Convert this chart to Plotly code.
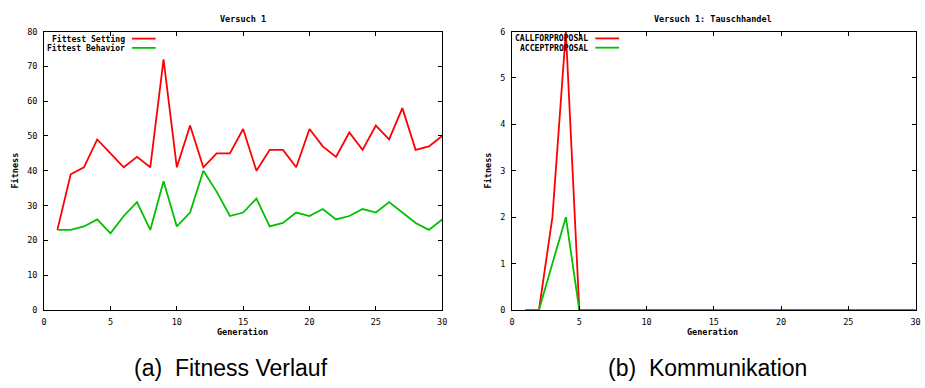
import plotly.graph_objects as go

# ---- data ----
generations = list(range(1, 31))
fittest_setting = [23, 39, 41, 49, 45, 41, 44, 41, 72, 41, 53, 41, 45, 45, 52, 40, 46, 46, 41, 52,
                   47, 44, 51, 46, 53, 49, 58, 46, 47, 50]
fittest_behavior = [23, 23, 24, 26, 22, 27, 31, 23, 37, 24, 28, 40, 34, 27, 28, 32, 24, 25, 28, 27,
                    29, 26, 27, 29, 28, 31, 28, 25, 23, 26]
callforproposal = [0, 0, 2, 6, 0] + [0] * 25
acceptproposal = [0, 0, 1, 2, 0] + [0] * 25

x_ticks = [0, 5, 10, 15, 20, 25, 30]
left_y_ticks = [0, 10, 20, 30, 40, 50, 60, 70, 80]
right_y_ticks = [0, 1, 2, 3, 4, 5, 6]

RED = "#ff0000"
GREEN = "#00c000"
W, H = 925, 388
MONO = "DejaVu Sans Mono"
TF = dict(family=MONO, size=8.5, color="#000000")
LF = dict(family=MONO, size=8.1, color="#000000")
LW = 1.8

fig = go.Figure()
fig.add_trace(go.Scatter(x=generations, y=fittest_setting, mode="lines", line=dict(color=RED, width=LW),
                         xaxis="x", yaxis="y", showlegend=False))
fig.add_trace(go.Scatter(x=generations, y=fittest_behavior, mode="lines", line=dict(color=GREEN, width=LW),
                         xaxis="x", yaxis="y", showlegend=False))
fig.add_trace(go.Scatter(x=generations, y=callforproposal, mode="lines", line=dict(color=RED, width=LW),
                         xaxis="x2", yaxis="y2", showlegend=False))
fig.add_trace(go.Scatter(x=generations, y=acceptproposal, mode="lines", line=dict(color=GREEN, width=LW),
                         xaxis="x2", yaxis="y2", showlegend=False))

def px_x(p):
    return p / W

def px_y(p):
    return 1 - p / H

ydom = [px_y(313), px_y(27.3)]
axis_common = dict(showgrid=False, zeroline=False, showline=True, linecolor="#000000", linewidth=1,
                   mirror="allticks", ticks="inside", ticklen=4, tickcolor="#000000",
                   ticklabelstandoff=4,
                   tickfont=dict(family=MONO, size=8.5, color="#000000"))

fig.update_layout(
    width=W, height=H, margin=dict(l=0, r=0, t=0, b=0),
    paper_bgcolor="white", plot_bgcolor="white",
    xaxis=dict(domain=[px_x(41.5), px_x(443)], range=[0, 30], tickvals=x_ticks, anchor="y", **axis_common),
    yaxis=dict(domain=ydom, range=[0, 80], tickvals=left_y_ticks, anchor="x", **axis_common),
    xaxis2=dict(domain=[px_x(513.5), px_x(920.5)], range=[0, 30], tickvals=x_ticks, anchor="y2", **axis_common),
    yaxis2=dict(domain=ydom, range=[0, 6], tickvals=right_y_ticks, anchor="x2", **axis_common),
)

ann = []
def text(x, y, s, font=TF, xanchor="center", angle=0):
    ann.append(dict(x=px_x(x), y=px_y(y), xref="paper", yref="paper", text=s, showarrow=False,
                    xanchor=xanchor, yanchor="middle", font=font, textangle=angle))

# titles
text(242, 14, "<b>Versuch 1</b>")
text(716, 14, "<b>Versuch 1: Tauschhandel</b>")
# axis labels
text(242, 336, "<b>Generation</b>")
text(716, 336, "<b>Generation</b>")
text(12, 170, "<b>Fitness</b>", angle=-90)
text(489, 170, "<b>Fitness</b>", angle=-90)

# legends (gnuplot style: text then line sample)
shapes = []
def legend_item(xr, y, label, color):
    text(xr, y, "<b>" + label + "</b>", font=LF, xanchor="right")
    shapes.append(dict(type="line", xref="paper", yref="paper", x0=px_x(xr + 5), x1=px_x(xr + 29),
                       y0=px_y(y), y1=px_y(y), line=dict(color=color, width=LW)))

legend_item(125, 34.5, "Fittest Setting", RED)
legend_item(125, 44, "Fittest Behavior", GREEN)
legend_item(592.5, 34.3, "CALLFORPROPOSAL", RED)
legend_item(592.5, 43.8, "ACCEPTPROPOSAL", GREEN)

# captions
CF = dict(family="Liberation Sans", size=23, color="#000000")
text(130, 373, "(a)&nbsp;&nbsp;Fitness Verlauf", font=CF, xanchor="left")
text(608, 373, "(b)&nbsp;&nbsp;Kommunikation", font=CF, xanchor="left")

fig.update_layout(annotations=ann, shapes=shapes)
fig.write_html("out.html")
